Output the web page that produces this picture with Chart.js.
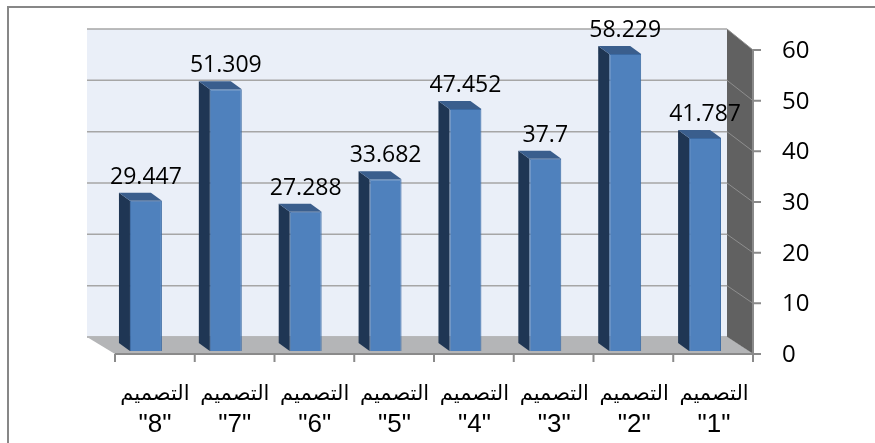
<!DOCTYPE html>
<html>
<head>
<meta charset="utf-8">
<script src="https://cdn.jsdelivr.net/npm/chart.js@4.4.1/dist/chart.umd.min.js"></script>
<style>
html, body { margin: 0; padding: 0; background: #fff; overflow: hidden; }
#wrap { position: relative; width: 875px; height: 443px; }
#frame { position: absolute; left: 7px; top: 6px; width: 900px; height: 500px; border: 2px solid #878787; pointer-events: none; }
</style>
</head>
<body>
<div id="wrap">
  <canvas id="myChart" width="875" height="443"></canvas>
  <div id="frame"></div>
</div>
<script>
// data
const designWord = 'التصميم';
const designNums = ['"1"', '"2"', '"3"', '"4"', '"5"', '"6"', '"7"', '"8"'];
const values = [41.787, 58.229, 37.7, 47.452, 33.682, 27.288, 51.309, 29.447];
const yTicks = [0, 10, 20, 30, 40, 50, 60];
const yMin = 0, yMax = 60, yStep = 10;

const labels = designNums.map(n => [designWord, n]);

// 3d look helpers
const sideDx = 11, sideDy = 8;
function frontY(s, v) { return s.getPixelForValue(v) + 3 + 2 * v / yMax; }
function backY(s, v) { return s.getPixelForValue(v) - 14 - 2 * v / yMax; }

const box3d = {
  id: 'box3d',
  beforeDatasetsDraw(chart) {
    const ctx = chart.ctx, a = chart.chartArea, y = chart.scales.y, x = chart.scales.x;
    const bl = a.left - 19, br = a.right - 18, fl = a.left + 9, fr = a.right + 8;
    ctx.save();
    // back wall
    ctx.fillStyle = '#eaeff8';
    ctx.fillRect(bl, backY(y, yMax), br - bl, backY(y, yMin) - backY(y, yMax));
    // side wall
    ctx.fillStyle = '#616161';
    ctx.beginPath();
    ctx.moveTo(br, backY(y, yMax));
    ctx.lineTo(fr, frontY(y, yMax));
    ctx.lineTo(fr, frontY(y, yMin));
    ctx.lineTo(br, backY(y, yMin));
    ctx.closePath();
    ctx.fill();
    // grid
    yTicks.forEach(v => {
      ctx.strokeStyle = '#a6a6a6';
      ctx.lineWidth = 1.5;
      ctx.beginPath();
      ctx.moveTo(bl, backY(y, v));
      ctx.lineTo(br, backY(y, v));
      ctx.stroke();
      ctx.strokeStyle = '#8e8e8e';
      ctx.lineWidth = 1;
      ctx.beginPath();
      ctx.moveTo(br, backY(y, v));
      ctx.lineTo(fr, frontY(y, v));
      ctx.stroke();
    });
    // floor
    ctx.fillStyle = '#b4b5b7';
    ctx.beginPath();
    ctx.moveTo(bl, backY(y, yMin));
    ctx.lineTo(br, backY(y, yMin));
    ctx.lineTo(fr, frontY(y, yMin));
    ctx.lineTo(fl, frontY(y, yMin));
    ctx.closePath();
    ctx.fill();
    // front axis
    ctx.strokeStyle = '#8a8a8a';
    ctx.lineWidth = 2;
    ctx.beginPath();
    ctx.moveTo(fr, frontY(y, yMax));
    ctx.lineTo(fr, frontY(y, yMin));
    yTicks.forEach(v => {
      ctx.moveTo(fr, frontY(y, v));
      ctx.lineTo(fr + 8, frontY(y, v));
    });
    const f0 = frontY(y, yMin);
    ctx.moveTo(fl, f0);
    ctx.lineTo(fr, f0);
    for (let k = 0; k <= values.length; k++) {
      const xx = fl + k * (fr - fl) / values.length;
      ctx.moveTo(xx, f0);
      ctx.lineTo(xx, f0 + 8);
    }
    ctx.stroke();

    // y labels on the front plane, left edge at fr + 29
    // (digit width of Open Sans is 0.572em, so centre each label by hand)
    ctx.fillStyle = '#000';
    ctx.font = '24px "Open Sans"';
    ctx.textAlign = 'center';
    ctx.textBaseline = 'middle';
    yTicks.forEach(v => {
      const t = String(v);
      const w = t.length * 0.572 * 24;
      ctx.fillText(t, fr + 29 + w / 2, frontY(y, v) + 1);
    });

    // category labels, two lines, under the front edge
    ctx.textBaseline = 'alphabetic';
    labels.forEach((lab, i) => {
      const cx = x.getPixelForTick(i) + 9;
      ctx.font = '21px "DejaVu Sans"';
      ctx.fillText(lab[0], cx, 400);
      ctx.font = '26px "Liberation Sans"';
      ctx.fillText(lab[1], cx, 432);
    });
    ctx.restore();
  },
  afterDatasetsDraw(chart) {
    const ctx = chart.ctx;
    const meta = chart.getDatasetMeta(0);
    ctx.save();
    meta.data.forEach((bar, i) => {
      const p = bar.getProps(['x', 'y', 'base', 'width'], true);
      const l = p.x - p.width / 2, r = p.x + p.width / 2;
      ctx.fillStyle = '#1f3654';
      ctx.beginPath();
      ctx.moveTo(l, p.y);
      ctx.lineTo(l - sideDx, p.y - sideDy);
      ctx.lineTo(l - sideDx, p.base - sideDy);
      ctx.lineTo(l, p.base);
      ctx.closePath();
      ctx.fill();
      ctx.fillStyle = '#3a5e8d';
      ctx.beginPath();
      ctx.moveTo(l, p.y);
      ctx.lineTo(l - sideDx, p.y - sideDy);
      ctx.lineTo(r - sideDx, p.y - sideDy);
      ctx.lineTo(r, p.y);
      ctx.closePath();
      ctx.fill();
      ctx.fillStyle = '#000';
      ctx.font = '23px "Open Sans"';
      ctx.textAlign = 'center';
      ctx.textBaseline = 'alphabetic';
      ctx.fillText(String(values[i]), p.x, p.y - 17);
    });
    ctx.restore();
  }
};

const ctx = document.getElementById('myChart');

new Chart(ctx, {
  type: 'bar',
  data: {
    labels: labels,
    datasets: [{
      data: values,
      backgroundColor: '#4f81bd',
      borderColor: '#3b6aa3',
      borderWidth: 1,
      categoryPercentage: 1,
      barPercentage: 0.4
    }]
  },
  options: {
    responsive: false,
    animation: false,
    layout: { padding: { left: 106, top: 45, right: 0, bottom: 0 } },
    plugins: { legend: { display: false }, tooltip: { enabled: false } },
    scales: {
      x: {
        reverse: true,
        grid: { display: false, drawTicks: false },
        border: { display: false },
        ticks: { display: false, autoSkip: false },
        afterFit(s) { s.height = 92; }
      },
      y: {
        position: 'right',
        min: yMin,
        max: yMax,
        grid: { display: false, drawTicks: false },
        border: { display: false },
        ticks: { display: false, stepSize: yStep },
        afterFit(s) { s.width = 130; }
      }
    }
  },
  plugins: [box3d]
});
</script>
</body>
</html>
